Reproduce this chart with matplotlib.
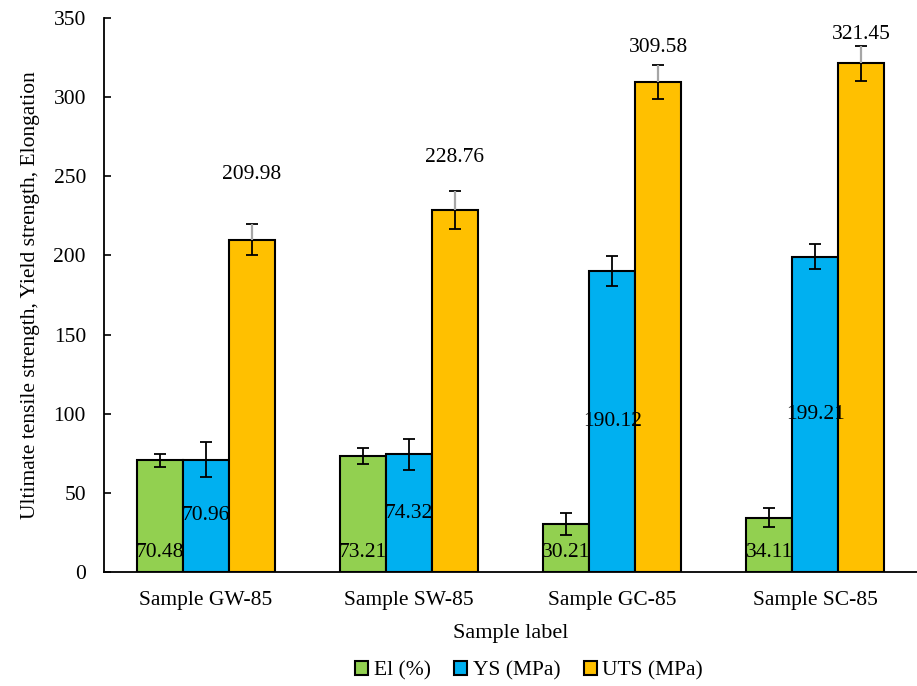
import numpy as np
import matplotlib.pyplot as plt

plt.rcParams['font.family'] = ['Liberation Serif', 'DejaVu Serif']

samples = ['Sample GW-85', 'Sample SW-85', 'Sample GC-85', 'Sample SC-85']
el = [70.48, 73.21, 30.21, 34.11]
ys = [70.96, 74.32, 190.12, 199.21]
uts = [209.98, 228.76, 309.58, 321.45]
el_err = [4.0, 5.0, 7.0, 6.0]
ys_err = [11.0, 10.0, 9.5, 8.0]
uts_err = [10.0, 12.0, 11.0, 11.0]
# label lift above the UTS bars (data units), as placed in the source
uts_lbl_lift = [41, 33, 22, 18]

x = np.arange(len(samples))
w = 0.226

fig = plt.figure(figsize=(9.17, 6.86), dpi=100)
ax = fig.add_axes([0.1134, 0.1662, 0.8866, 0.8076])

ek = dict(ecolor='black', capsize=4, elinewidth=1.3, capthick=1.3)
b1 = ax.bar(x - w, el, w, color='#92D050', edgecolor='black', linewidth=1.5,
            yerr=el_err, error_kw=ek, label='El (%)')
b2 = ax.bar(x, ys, w, color='#00B0F0', edgecolor='black', linewidth=1.5,
            yerr=ys_err, error_kw=ek, label='YS (MPa)')
b3 = ax.bar(x + w, uts, w, color='#FFC000', edgecolor='black', linewidth=1.5,
            yerr=uts_err, error_kw=ek, label='UTS (MPa)')
# grey leader lines of the UTS data labels over the upper error bars
ax.vlines(x + w, uts, np.array(uts) + np.array(uts_err), color='#a6a6a6', lw=1.6, zorder=4)

fs = 15.5
for xi, v in zip(x, el):
    ax.text(xi - w, 12, f'{v:.2f}', ha='center', va='center', fontsize=fs)
for xi, v in zip(x, ys):
    ax.text(xi, v / 2, f'{v:.2f}', ha='center', va='center', fontsize=fs)
for xi, v, d in zip(x, uts, uts_lbl_lift):
    ax.text(xi + w, v + d, f'{v:.2f}', ha='center', va='center', fontsize=fs)

ax.set_xlim(-0.5, 3.5)
ax.set_ylim(0, 350)
ax.set_yticks(range(0, 351, 50))
ax.set_xticks(x)
ax.set_xticklabels(samples)
ax.tick_params(axis='y', labelsize=fs, direction='in', length=5, width=1.2, pad=13)
ax.tick_params(axis='x', labelsize=fs, length=0, pad=14)
ax.spines['top'].set_visible(False)
ax.spines['right'].set_visible(False)
ax.spines['left'].set_linewidth(1.3)
ax.spines['bottom'].set_linewidth(1.3)

ax.set_xlabel('Sample label', fontsize=16, labelpad=10)
ax.set_ylabel('Ultimate tensile strength, Yield strength, Elongation', fontsize=15.5, labelpad=10)

leg = fig.legend(handles=[b1, b2, b3], loc='center', bbox_to_anchor=(0.577, 0.022),
                 ncol=3, frameon=False, fontsize=fs, handlelength=0.6, handleheight=0.6,
                 handletextpad=0.25, columnspacing=1.1, borderpad=0)

fig.savefig('out.png', dpi=100)
